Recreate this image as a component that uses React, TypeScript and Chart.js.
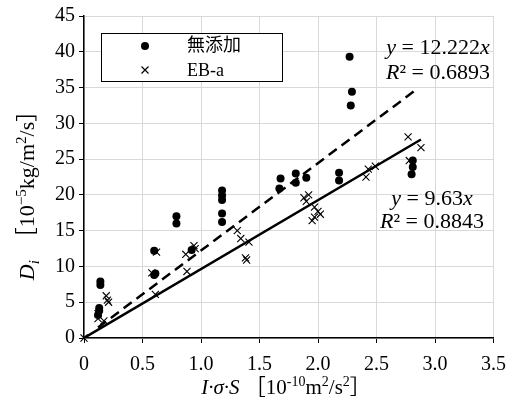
import React, { useEffect, useRef } from "react";
import { Chart, registerables } from "chart.js";

Chart.register(...registerables);

// ---------- data ----------
const seriesNames = ["無添加", "EB-a"];

const mutenkaX = [0.12, 0.13, 0.13, 0.14, 0.14, 0.6, 0.61, 0.6, 0.79, 0.79, 0.92, 1.18, 1.18, 1.18, 1.18, 1.18, 1.68, 1.67, 1.81, 1.81, 1.9, 2.18, 2.18, 2.27, 2.29, 2.28, 2.81, 2.81, 2.8];
const mutenkaY = [3.2, 3.8, 4.2, 7.4, 7.9, 12.2, 9.0, 8.8, 17.0, 16.0, 12.3, 20.6, 19.9, 19.3, 17.4, 16.2, 22.3, 20.9, 23.0, 21.7, 22.4, 23.1, 22.0, 39.3, 34.4, 32.5, 24.8, 23.9, 22.9];

const ebX = [0, 0.12, 0.12, 0.17, 0.19, 0.2, 0.21, 0.58, 0.62, 0.61, 0.87, 0.88, 0.94, 0.95, 1.31, 1.34, 1.41, 1.38, 1.39, 1.88, 1.9, 1.92, 1.97, 2.0, 2.02, 1.95, 1.97, 2.41, 2.43, 2.49, 2.77, 2.78, 2.88];
const ebY = [0, 3.4, 2.7, 2.4, 5.9, 5.3, 5.0, 9.1, 12.0, 6.1, 11.7, 9.3, 12.9, 12.5, 15.0, 13.9, 13.4, 11.2, 10.9, 19.6, 19.1, 20.0, 18.3, 17.7, 17.3, 16.4, 16.9, 22.5, 23.6, 24.0, 28.1, 24.8, 26.6];

const trendSlopes = [12.222, 9.63];
const trendXStart = [0.12, 0];
const trendXEnd = [2.84, 2.88];
const trendR2 = ["0.6893", "0.8843"];

const xMin = 0;
const xMax = 3.5;
const xStep = 0.5;
const yMin = 0;
const yMax = 45;
const yStep = 5;

// ---------- text helpers ----------
const SERIF = "'Liberation Serif', 'Noto Sans CJK JP', serif";

Chart.defaults.font.family = SERIF;
Chart.defaults.font.size = 20;
Chart.defaults.color = "#000";

type Seg = { t: string; it?: boolean; sup?: boolean; sub?: boolean };

function segFont(s: Seg, size: number) {
  const sz = s.sup || s.sub ? Math.round(size * 0.66) : size;
  return `${s.it ? "italic " : ""}${sz}px ${SERIF}`;
}

function measureRich(ctx: CanvasRenderingContext2D, segs: Seg[], size: number) {
  let w = 0;
  for (const s of segs) {
    ctx.font = segFont(s, size);
    w += ctx.measureText(s.t).width;
  }
  return w;
}

function drawRich(ctx: CanvasRenderingContext2D, segs: Seg[], x: number, y: number, size: number) {
  let cx = x;
  ctx.textBaseline = "alphabetic";
  ctx.textAlign = "left";
  for (const s of segs) {
    ctx.font = segFont(s, size);
    const dy = s.sup ? -size * 0.38 : s.sub ? size * 0.22 : 0;
    ctx.fillText(s.t, cx, y + dy);
    cx += ctx.measureText(s.t).width;
  }
}

function drawRichCentered(ctx: CanvasRenderingContext2D, segs: Seg[], cx: number, y: number, size: number) {
  const w = measureRich(ctx, segs, size);
  drawRich(ctx, segs, cx - w / 2, y, size);
}

const yTitle: Seg[] = [
  { t: "D", it: true },
  { t: "i", it: true, sub: true },
  { t: "  ［10" },
  { t: "−5", sup: true },
  { t: "kg/m" },
  { t: "2", sup: true },
  { t: "/s］" },
];

const xTitle: Seg[] = [
  { t: "I·σ·S", it: true },
  { t: " ［10" },
  { t: "-10", sup: true },
  { t: "m" },
  { t: "2", sup: true },
  { t: "/s" },
  { t: "2", sup: true },
  { t: "］" },
];

const overlayPlugin = {
  id: "overlay",
  afterDatasetsDraw(chart: any) {
    const ctx: CanvasRenderingContext2D = chart.ctx;
    ctx.save();
    ctx.fillStyle = "#000";

    // axis titles
    ctx.save();
    ctx.translate(34, 190);
    ctx.rotate(-Math.PI / 2);
    drawRichCentered(ctx, yTitle, 0, 0, 22);
    ctx.restore();
    drawRichCentered(ctx, xTitle, 286, 394, 21);

    // trend equations
    const eqPos = [
      { x: 438, y1: 54, y2: 79 },
      { x: 432, y1: 205, y2: 228 },
    ];
    trendSlopes.forEach((m, i) => {
      const p = eqPos[i];
      drawRichCentered(ctx, [{ t: "y", it: true }, { t: " = " + m }, { t: "x", it: true }], p.x, p.y1, 22);
      drawRichCentered(ctx, [{ t: "R", it: true }, { t: "² = " + trendR2[i] }], p.x, p.y2, 22);
    });

    // legend
    const bx = 101.5, by = 33.5, bw = 181, bh = 48;
    ctx.fillStyle = "#fff";
    ctx.fillRect(bx, by, bw, bh);
    ctx.strokeStyle = "#000";
    ctx.lineWidth = 1;
    ctx.strokeRect(bx, by, bw, bh);
    ctx.fillStyle = "#000";
    ctx.beginPath();
    ctx.arc(145, 46, 4, 0, Math.PI * 2);
    ctx.fill();
    ctx.lineWidth = 1.2;
    ctx.beginPath();
    ctx.moveTo(141.5, 66.5);
    ctx.lineTo(148.5, 73.5);
    ctx.moveTo(148.5, 66.5);
    ctx.lineTo(141.5, 73.5);
    ctx.stroke();
    ctx.font = `18px ${SERIF}`;
    ctx.textBaseline = "middle";
    ctx.textAlign = "left";
    ctx.fillText(seriesNames[0], 187, 46);
    ctx.fillText(seriesNames[1], 187, 71);
    ctx.restore();
  },
};

export default function App() {
  const ref = useRef<HTMLCanvasElement | null>(null);

  useEffect(() => {
    if (!ref.current) return;
    const trendData = trendSlopes.map((m, i) => [
      { x: trendXStart[i], y: m * trendXStart[i] },
      { x: trendXEnd[i], y: m * trendXEnd[i] },
    ]);
    const tickFont = { family: "Liberation Serif", size: 20 };
    const chart = new Chart(ref.current, {
      type: "scatter",
      data: {
        datasets: [
          {
            label: seriesNames[0],
            data: mutenkaX.map((x, i) => ({ x, y: mutenkaY[i] })),
            pointStyle: "circle",
            pointRadius: 4,
            backgroundColor: "#000",
            borderColor: "#000",
            borderWidth: 0,
            clip: false,
          },
          {
            label: seriesNames[1],
            data: ebX.map((x, i) => ({ x, y: ebY[i] })),
            pointStyle: "crossRot",
            pointRadius: 5,
            backgroundColor: "#000",
            borderColor: "#000",
            borderWidth: 1.1,
            clip: false,
          },
          {
            label: "trend1",
            data: trendData[0],
            showLine: true,
            pointRadius: 0,
            borderColor: "#000",
            borderWidth: 2.5,
            borderDash: [10, 6],
          },
          {
            label: "trend2",
            data: trendData[1],
            showLine: true,
            pointRadius: 0,
            borderColor: "#000",
            borderWidth: 2.5,
          },
        ],
      } as any,
      options: {
        animation: false,
        responsive: false,
        devicePixelRatio: 1,
        events: [],
        layout: { padding: { left: 0, right: 20, top: 15, bottom: 0 } },
        plugins: {
          legend: { display: false },
          tooltip: { enabled: false },
          title: { display: false },
        },
        scales: {
          x: {
            type: "linear",
            min: xMin,
            max: xMax,
            ticks: { stepSize: xStep, font: tickFont, color: "#000", padding: 10 },
            grid: { color: "#d9d9d9", lineWidth: 1, tickColor: "#000", tickLength: 5 },
            border: { color: "#000", width: 1.5 },
            afterFit: (s: any) => {
              s.height = 65;
            },
          },
          y: {
            type: "linear",
            min: yMin,
            max: yMax,
            ticks: { stepSize: yStep, font: tickFont, color: "#000", padding: 4 },
            grid: { color: "#d9d9d9", lineWidth: 1, tickColor: "#000", tickLength: 5 },
            border: { color: "#000", width: 1.5 },
            afterFit: (s: any) => {
              s.width = 84;
            },
          },
        },
      } as any,
      plugins: [overlayPlugin],
    });
    return () => chart.destroy();
  }, []);

  return (
    <div style={{ position: "fixed", left: 0, top: 0, width: 516, height: 403, background: "#fff" }}>
      <canvas ref={ref} width={516} height={403} style={{ width: 516, height: 403, display: "block" }} />
    </div>
  );
}
